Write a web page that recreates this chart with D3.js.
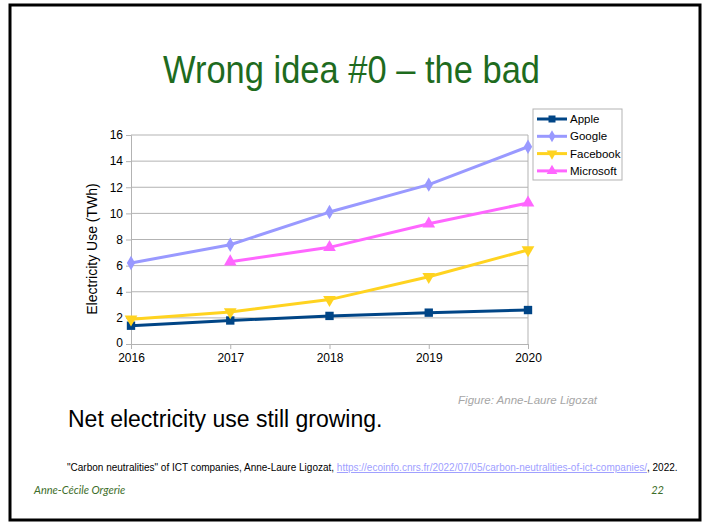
<!DOCTYPE html>
<html>
<head>
<meta charset="utf-8">
<script src="https://cdn.jsdelivr.net/npm/d3@7"></script>
<style>
  body { margin: 0; background: #fff; }
  svg { display: block; }
</style>
</head>
<body>
<svg width="709" height="522"></svg>
<script>
// chart data
const years = [2016, 2017, 2018, 2019, 2020];
const apple = [1.4, 1.8, 2.15, 2.4, 2.6];
const google = [6.2, 7.6, 10.1, 12.2, 15.1];
const facebook = [1.9, 2.45, 3.4, 5.15, 7.2];
const microsoft = [null, 6.3, 7.4, 9.2, 10.8];
const yTicks = [0, 2, 4, 6, 8, 10, 12, 14, 16];

const series = [
  { name: 'Apple', values: apple, color: '#004586', symbol: d3.symbolSquare, size: 70, rot: 0 },
  { name: 'Google', values: google, color: '#9999ff', symbol: d3.symbolDiamond, size: 60, rot: 0 },
  { name: 'Facebook', values: facebook, color: '#ffd320', symbol: d3.symbolTriangle, size: 70, rot: 180 },
  { name: 'Microsoft', values: microsoft, color: '#ff66ff', symbol: d3.symbolTriangle, size: 70, rot: 0 }
];

const svg = d3.select('svg');
const font = '"Liberation Sans", Arial, sans-serif';

// slide frame
svg.append('rect')
  .attr('x', 10).attr('y', 5)
  .attr('width', 690).attr('height', 515)
  .attr('fill', 'none').attr('stroke', '#000').attr('stroke-width', 3);

svg.append('text')
  .attr('x', 163).attr('y', 83)
  .attr('textLength', 377).attr('lengthAdjust', 'spacingAndGlyphs')
  .attr('font-family', font).attr('font-size', 39)
  .attr('fill', '#1e6b1e')
  .text('Wrong idea #0 – the bad');

// plot
const x = d3.scaleLinear().domain([2016, 2020]).range([131, 528]);
const y = d3.scaleLinear().domain([0, 16]).range([344, 135]);

const g = svg.append('g');

g.selectAll('.grid').data(yTicks.slice(1))
  .enter().append('line')
    .attr('x1', x(2016)).attr('x2', x(2020))
    .attr('y1', d => y(d)).attr('y2', d => y(d))
    .attr('stroke', '#b3b3b3').attr('stroke-width', 1);

g.append('line')
  .attr('x1', x(2020)).attr('x2', x(2020))
  .attr('y1', y(0)).attr('y2', y(16))
  .attr('stroke', '#b3b3b3');

const xAxis = g.append('g')
  .attr('transform', `translate(0,${y(0)})`)
  .call(d3.axisBottom(x).tickValues(years).tickFormat(d3.format('d')).tickSize(5).tickPadding(4));
const yAxis = g.append('g')
  .attr('transform', `translate(${x(2016)},0)`)
  .call(d3.axisLeft(y).tickValues(yTicks).tickSize(5).tickPadding(3));

[xAxis, yAxis].forEach(a => {
  a.select('.domain').attr('stroke', '#b3b3b3');
  a.selectAll('.tick line').attr('stroke', '#b3b3b3');
  a.selectAll('text')
    .attr('font-family', font).attr('font-size', 12).attr('fill', '#000');
});
// keep the "0" clear of the 2016 label
yAxis.selectAll('.tick text').filter(d => d === 0).attr('dy', '0.2em');

g.append('text')
  .attr('transform', `translate(97,249) rotate(-90)`)
  .attr('text-anchor', 'middle')
  .attr('font-family', font).attr('font-size', 14)
  .text('Electricity Use (TWh)');

const line = d3.line()
  .defined(d => d[1] != null)
  .x(d => x(d[0]))
  .y(d => y(d[1]));

series.forEach(s => {
  const pts = years.map((yr, i) => [yr, s.values[i]]);
  g.append('path')
    .attr('d', line(pts))
    .attr('fill', 'none')
    .attr('stroke', s.color).attr('stroke-width', 3)
    .attr('stroke-linejoin', 'round');
  g.selectAll(null).data(pts.filter(p => p[1] != null))
    .enter().append('path')
      .attr('d', d3.symbol().type(s.symbol).size(s.size))
      .attr('transform', d => `translate(${x(d[0])},${y(d[1])}) rotate(${s.rot})`)
      .attr('fill', s.color);
});

// legend
const legend = svg.append('g').attr('transform', 'translate(533,109)');
legend.append('rect')
  .attr('width', 89).attr('height', 71)
  .attr('fill', '#fff').attr('stroke', '#b3b3b3');
const items = legend.selectAll('.item').data(series)
  .enter().append('g')
    .attr('transform', (d, i) => `translate(0,${10 + i * 17.3})`);
items.append('line')
  .attr('x1', 4).attr('x2', 34)
  .attr('stroke', d => d.color).attr('stroke-width', 3);
items.append('path')
  .attr('d', d => d3.symbol().type(d.symbol).size(d.size * 0.7)())
  .attr('transform', d => `translate(19,0) rotate(${d.rot})`)
  .attr('fill', d => d.color);
items.append('text')
  .attr('x', 37).attr('dy', '0.35em')
  .attr('font-family', font).attr('font-size', 11.5)
  .text(d => d.name);

// slide texts
svg.append('text')
  .attr('x', 597).attr('y', 404)
  .attr('text-anchor', 'end')
  .attr('font-family', font).attr('font-size', 11.5).attr('font-style', 'italic')
  .attr('fill', '#a6a6a6')
  .text('Figure: Anne-Laure Ligozat');

svg.append('text')
  .attr('x', 68).attr('y', 427)
  .attr('font-family', font).attr('font-size', 23)
  .text('Net electricity use still growing.');

const cite = svg.append('text')
  .attr('x', 67).attr('y', 471)
  .attr('font-family', font).attr('font-size', 10);
cite.append('tspan').text('"Carbon neutralities" of ICT companies, Anne-Laure Ligozat, ');
cite.append('tspan')
  .attr('fill', '#a0a0ff').attr('text-decoration', 'underline')
  .text('https://ecoinfo.cnrs.fr/2022/07/05/carbon-neutralities-of-ict-companies/');
cite.append('tspan').text(', 2022.');

svg.append('text')
  .attr('x', 34).attr('y', 494)
  .attr('font-family', 'Lato, sans-serif').attr('font-size', 11).attr('font-style', 'italic')
  .attr('fill', '#3d6e2a')
  .text('Anne-Cécile Orgerie');

svg.append('text')
  .attr('x', 664).attr('y', 494)
  .attr('text-anchor', 'end')
  .attr('font-family', 'Lato, sans-serif').attr('font-size', 11).attr('font-style', 'italic')
  .attr('fill', '#3d6e2a')
  .text('22');
</script>
</body>
</html>
